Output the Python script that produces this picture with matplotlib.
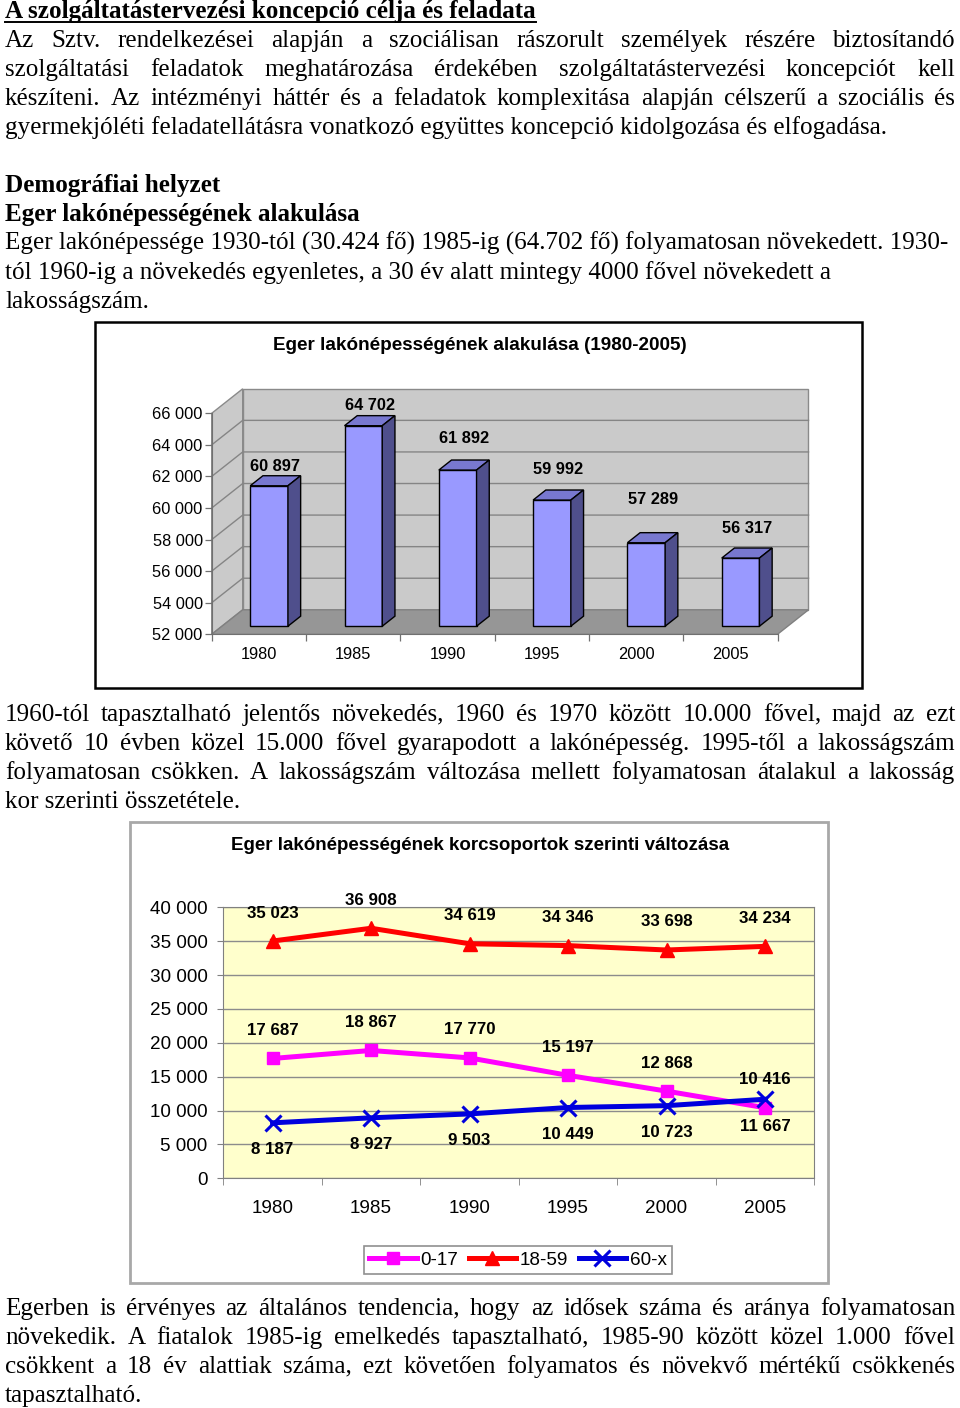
import math
import matplotlib
matplotlib.use('Agg')
import matplotlib.pyplot as plt
from matplotlib.patches import Rectangle, Polygon
from matplotlib.font_manager import FontProperties, findfont, get_font
import numpy as np

# ---------------- data ----------------
years = ['1980', '1985', '1990', '1995', '2000', '2005']
population = [60897, 64702, 61892, 59992, 57289, 56317]
pop_ticks = [52000, 54000, 56000, 58000, 60000, 62000, 64000, 66000]

series_names = ['0-17', '18-59', '60-x']
age_0_17 = [17687, 18867, 17770, 15197, 12868, 10416]
age_18_59 = [35023, 36908, 34619, 34346, 33698, 34234]
age_60_x = [8187, 8927, 9503, 10449, 10723, 11667]
age_ticks = [0, 5000, 10000, 15000, 20000, 25000, 30000, 35000, 40000]

title1 = 'Eger lakónépességének alakulása (1980-2005)'
title2 = 'Eger lakónépességének korcsoportok szerinti változása'

# document text: (text, style) ; style: H=bold underline, B=bold, J=justified, L=left
doc_top = [
    ('A szolgáltatástervezési koncepció célja és feladata', 'H'),
    ('Az Sztv. rendelkezései alapján a szociálisan rászorult személyek részére biztosítandó', 'J'),
    ('szolgáltatási feladatok meghatározása érdekében szolgáltatástervezési koncepciót kell', 'J'),
    ('készíteni. Az intézményi háttér és a feladatok komplexitása alapján célszerű a szociális és', 'J'),
    ('gyermekjóléti feladatellátásra vonatkozó együttes koncepció kidolgozása és elfogadása.', 'L'),
    ('Demográfiai helyzet', 'B'),
    ('Eger lakónépességének alakulása', 'B'),
    ('Eger lakónépessége 1930-tól (30.424 fő) 1985-ig (64.702 fő) folyamatosan növekedett. 1930-', 'L'),
    ('tól 1960-ig a növekedés egyenletes, a 30 év alatt mintegy 4000 fővel növekedett a', 'L'),
    ('lakosságszám.', 'L'),
]
doc_mid = [
    ('1960-tól tapasztalható jelentős növekedés, 1960 és 1970 között 10.000 fővel, majd az ezt', 'J'),
    ('követő 10 évben közel 15.000 fővel gyarapodott a lakónépesség. 1995-től a lakosságszám', 'J'),
    ('folyamatosan csökken. A lakosságszám változása mellett folyamatosan átalakul a lakosság', 'J'),
    ('kor szerinti összetétele.', 'L'),
]
doc_bot = [
    ('Egerben is érvényes az általános tendencia, hogy az idősek száma és aránya folyamatosan', 'J'),
    ('növekedik. A fiatalok 1985-ig emelkedés tapasztalható, 1985-90 között közel 1.000 fővel', 'J'),
    ('csökkent a 18 év alattiak száma, ezt követően folyamatos és növekvő mértékű csökkenés', 'J'),
    ('tapasztalható.', 'L'),
]

# ---------------- layout ----------------
W, H = 960, 1408
DPI = 100
SERIF = ['Liberation Serif', 'DejaVu Serif']
SANS = ['Liberation Sans', 'DejaVu Sans']
plt.rcParams['font.family'] = SANS

fig = plt.figure(figsize=(W / DPI, H / DPI), dpi=DPI)
fig.patch.set_facecolor('white')
bg = fig.add_axes([0, 0, 1, 1])
bg.set_xlim(0, W)
bg.set_ylim(H, 0)
bg.axis('off')
renderer = fig.canvas.get_renderer()


def measure(s, fs, weight='normal', family=SERIF):
    t = bg.text(0, 0, s, fontsize=fs, family=family, weight=weight)
    w = t.get_window_extent(renderer).width
    t.remove()
    return w


ref = doc_top[4][0]
BODY_FS = 16 * 882.0 / measure(ref, 16)

# baseline correction so that separately drawn words share one pixel baseline
try:
    from matplotlib.backends.backend_agg import get_hinting_flag
    _ft = get_font(findfont(FontProperties(family=SERIF, size=BODY_FS)))

    def baseline_err(word, B):
        _ft.clear()
        _ft.set_size(BODY_FS, DPI)
        _ft.set_text(word, 0, flags=get_hinting_flag())
        _, hh = _ft.get_width_height()
        dd = _ft.get_descent()
        a = (hh - dd) / 64.0
        return (round(B + dd / 64.0) - B) - (hh // 64) + math.floor(a)
except Exception:
    def baseline_err(word, B):
        return 0

X0, X1 = 5, 955


def put_line(s, y, style):
    weight = 'bold' if style in ('H', 'B') else 'normal'
    if style == 'J':
        words = s.split(' ')
        widths = [measure(w, BODY_FS) for w in words]
        gap = (X1 - X0 - sum(widths)) / (len(words) - 1)
        x = X0
        errs = [baseline_err(w, y) for w in words]
        ref_err = max(set(errs), key=errs.count)
        for w, wd, e in zip(words, widths, errs):
            bg.text(x, y - (e - ref_err), w, fontsize=BODY_FS, family=SERIF,
                    va='baseline', ha='left')
            x += wd + gap
    else:
        bg.text(X0, y, s, fontsize=BODY_FS, family=SERIF, weight=weight,
                va='baseline', ha='left')
        if style == 'H':
            wd = measure(s, BODY_FS, 'bold')
            bg.plot([X0, X0 + wd], [21.5, 21.5], color='black', lw=1.4)


top_baselines = [18, 47, 76, 105, 134, 192, 221, 250, 279, 308]
mid_baselines = [721, 750, 779, 808]
bot_baselines = [1315, 1344, 1373, 1402]
for (s, st), y in zip(doc_top, top_baselines):
    put_line(s, y, st)
for (s, st), y in zip(doc_mid, mid_baselines):
    put_line(s, y, st)
for (s, st), y in zip(doc_bot, bot_baselines):
    put_line(s, y, st)


def fmt(v):
    return f'{v:,}'.replace(',', ' ')


# ---------------- chart 1 : 3D columns ----------------
bg.add_patch(Rectangle((95, 322), 767, 366, fill=False, ec='black', lw=1.8))
bg.text(480, 346, title1, ha='center', va='center', family=SANS,
        weight='bold', fontsize=13.6)

L1, R1, T1, B1 = 211.7, 777.5, 413.3, 634.3
ax1 = fig.add_axes([L1 / W, 1 - B1 / H, (R1 - L1) / W, (B1 - T1) / H])
ax1.set_xlim(0, 6)
ax1.set_ylim(pop_ticks[0], pop_ticks[-1])
ax1.patch.set_visible(False)
ymin, ymax = pop_ticks[0], pop_ticks[-1]
px_x = (R1 - L1) / 6
px_y = (B1 - T1) / (ymax - ymin)
ddx = 31 / px_x
ddy = 24.5 / px_y

WALL = '#cacaca'
GRID = '#858585'
ax1.add_patch(Polygon([(ddx, ymin + ddy), (6 + ddx, ymin + ddy), (6 + ddx, ymax + ddy),
                       (ddx, ymax + ddy)], fc=WALL, ec='#8a8a8a', lw=1,
                      clip_on=False, zorder=0))
ax1.add_patch(Polygon([(0, ymin), (ddx, ymin + ddy), (ddx, ymax + ddy), (0, ymax)],
                      fc=WALL, ec='#8a8a8a', lw=1, clip_on=False, zorder=0))
ax1.add_patch(Polygon([(0, ymin), (6, ymin), (6 + ddx, ymin + ddy), (ddx, ymin + ddy)],
                      fc='#969696', ec='#808080', lw=1, clip_on=False, zorder=0.5))
for v in pop_ticks[1:-1]:
    ax1.plot([0, ddx, 6 + ddx], [v, v + ddy, v + ddy], color=GRID, lw=1,
             clip_on=False, zorder=0.6)

for side in ('top', 'right'):
    ax1.spines[side].set_visible(False)
for side in ('left', 'bottom'):
    ax1.spines[side].set_color('#707070')
    ax1.spines[side].set_zorder(0.7)
ax1.set_yticks(pop_ticks, labels=[fmt(v) for v in pop_ticks])
ax1.tick_params(axis='y', length=5, width=0.9, color='#707070', pad=1.5, labelsize=11.8)
ax1.set_xticks(range(7), labels=[''] * 7)
ax1.set_xticks(np.arange(6) + 0.5, labels=years, minor=True)
ax1.tick_params(axis='x', which='major', length=5, width=0.9, color='#707070')
ax1.tick_params(axis='x', which='minor', length=0, pad=9, labelsize=11.8)

xs = np.arange(6) + 0.5
vals = np.array(population)
bw = 0.40
f0, f1 = 0.33, 0.74
ax1.bar(xs + f0 * ddx, vals - ymin, bottom=ymin + f0 * ddy, width=bw,
        color='#9999ff', ec='black', lw=1, clip_on=False, zorder=3)
dd = (f1 - f0)
for x, v in zip(xs, vals):
    xl = x + f0 * ddx - bw / 2
    xr = xl + bw
    ax1.add_patch(Polygon([(xl, v + f0 * ddy), (xr, v + f0 * ddy),
                           (xr + dd * ddx, v + f1 * ddy), (xl + dd * ddx, v + f1 * ddy)],
                          fc='#7878d0', ec='black', lw=1, clip_on=False, zorder=3))
    ax1.add_patch(Polygon([(xr, ymin + f0 * ddy), (xr, v + f0 * ddy),
                           (xr + dd * ddx, v + f1 * ddy), (xr + dd * ddx, ymin + f1 * ddy)],
                          fc='#4f4f8c', ec='black', lw=1, clip_on=False, zorder=3))

label_offsets = [19, 20, 32, 31, 43, 30]
for x, v, off in zip(xs, vals, label_offsets):
    ax1.annotate(fmt(v), xy=(x + (f0 + f1) / 2 * ddx, v + f0 * ddy), xytext=(0, off),
                 textcoords='offset pixels', ha='center', va='center',
                 weight='bold', fontsize=11.8, annotation_clip=False)

# ---------------- chart 2 : lines ----------------
bg.add_patch(Rectangle((130, 822), 698, 461, fill=False, ec='#a8a8a8', lw=2))
bg.text(480, 846, title2, ha='center', va='center', family=SANS,
        weight='bold', fontsize=13.5)

L2, R2, T2, B2 = 223.3, 814.3, 907.3, 1178.3
ax2 = fig.add_axes([L2 / W, 1 - B2 / H, (R2 - L2) / W, (B2 - T2) / H])
ax2.set_facecolor('#ffffcc')
ax2.set_xlim(-0.5, 5.5)
ax2.set_ylim(age_ticks[0], age_ticks[-1])
ax2.set_yticks(age_ticks, labels=[fmt(v) for v in age_ticks])
ax2.yaxis.grid(True, color='#8c8c8c', lw=1)
ax2.set_axisbelow(True)
for s in ax2.spines.values():
    s.set_color('#808080')
ax2.set_xticks(range(6), labels=years)
ax2.set_xticks(np.arange(-0.5, 6, 1), minor=True)
ax2.tick_params(axis='y', length=4.3, color='#808080', pad=7, labelsize=13.6)
ax2.tick_params(axis='x', which='major', length=0, pad=15.5, labelsize=13.6)
ax2.tick_params(axis='x', which='minor', length=5, color='#808080')

xi = np.arange(6)
styles = [
    (age_0_17, '#ff00ff', dict(marker='s', ms=9), 28),
    (age_18_59, '#ff0000', dict(marker='^', ms=10), 28),
    (age_60_x, '#0000dd', dict(marker='x', ms=11, mew=2.2), -27),
]
for (ys, col, mk, off), name in zip(styles, series_names):
    ax2.plot(xi, ys, color=col, lw=3.6, label=name, clip_on=False, zorder=3, **mk)
    for x, v in zip(xi, ys):
        ax2.annotate(fmt(v), xy=(x, v), xytext=(0, off), textcoords='offset pixels',
                     ha='center', va='center', weight='bold', fontsize=12.2,
                     annotation_clip=False, zorder=4)

leg = ax2.legend(loc='center', bbox_to_anchor=(518 / W, 1 - 1260 / H),
                 bbox_transform=fig.transFigure, ncol=3, fancybox=False,
                 framealpha=1, edgecolor='#909090', fontsize=13.6,
                 handlelength=2.5, handletextpad=0.2, columnspacing=0.55,
                 borderpad=0.3, borderaxespad=0)
leg.get_frame().set_linewidth(1.2)

fig.savefig('out.png', dpi=DPI, facecolor='white')
